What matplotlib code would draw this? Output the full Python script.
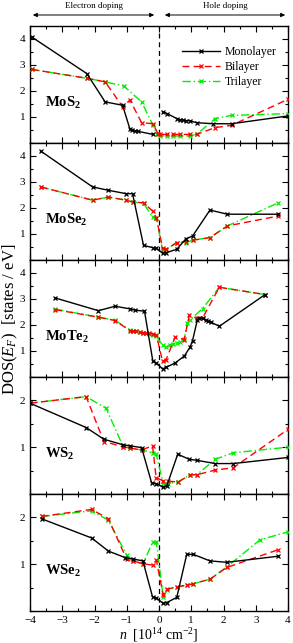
import numpy as np
import matplotlib
matplotlib.use("Agg")
import matplotlib.pyplot as plt
from matplotlib.ticker import MultipleLocator

plt.rcParams['font.family'] = ['Liberation Serif', 'DejaVu Serif']
plt.rcParams['mathtext.fontset'] = 'custom'
plt.rcParams['mathtext.rm'] = 'Liberation Serif'
plt.rcParams['mathtext.it'] = 'Liberation Serif:italic'
plt.rcParams['mathtext.bf'] = 'Liberation Serif:bold'

# --- data ---
materials = ["MoS_2", "MoSe_2", "MoTe_2", "WS_2", "WSe_2"]
ylims = [4.5, 4.5, 4.5, 2.5, 2.5]

# MoS2 (monolayer curve is broken at n = 0)
mos2_mono_n = [-3.95, -2.24, -1.67, -1.13, -0.9, -0.84, -0.74, -0.66, -0.19, np.nan,
               0.11, 0.25, 0.55, 0.65, 0.75, 0.85, 0.96, 1.17, 1.68, 2.25, 4.0]
mos2_mono_d = [4.08, 2.67, 1.58, 1.45, 0.53, 0.5, 0.47, 0.45, 0.33, np.nan,
               1.2, 1.13, 0.94, 0.9, 0.88, 0.86, 0.85, 0.78, 0.74, 0.74, 1.04]
mos2_bi_n = [-3.95, -2.24, -1.67, -1.13, -0.9, -0.54, -0.19, -0.02,
             0.03, 0.24, 0.44, 0.65, 0.96, 1.17, 1.74, 2.25, 4.0]
mos2_bi_d = [2.83, 2.49, 2.35, 1.4, 1.65, 0.78, 0.74, 0.33,
             0.33, 0.33, 0.33, 0.33, 0.33, 0.33, 0.59, 0.68, 1.68]
mos2_tri_n = [-3.95, -2.24, -1.67, -1.09, -0.54, -0.19, -0.07,
              0.03, 0.24, 0.44, 0.65, 0.96, 1.17, 1.74, 2.25, 4.0]
mos2_tri_d = [2.83, 2.49, 2.35, 2.19, 1.58, 0.69, 0.33,
              0.27, 0.27, 0.27, 0.27, 0.27, 0.33, 0.94, 1.06, 1.13]

# MoSe2
mose2_mono_n = [-3.67, -2.06, -1.57, -1.02, -0.82, -0.48, -0.18, -0.08,
                0.11, 0.22, 0.55, 0.84, 1.04, 1.58, 2.12, 3.7]
mose2_mono_d = [4.19, 2.81, 2.68, 2.55, 2.55, 0.56, 0.47, 0.45,
                0.26, 0.28, 0.41, 0.82, 0.92, 1.92, 1.76, 1.76]
mose2_bi_n = [-3.67, -2.06, -1.57, -1.02, -0.82, -0.48, -0.2, -0.08,
              0.11, 0.22, 0.55, 0.84, 1.04, 1.58, 2.12, 3.7]
mose2_bi_d = [2.81, 2.3, 2.42, 2.3, 2.23, 2.2, 1.88, 1.63,
              0.45, 0.41, 0.67, 0.71, 0.76, 0.86, 1.31, 1.69]
mose2_tri_n = [-3.67, -2.06, -1.57, -1.02, -0.82, -0.48, -0.2, -0.08,
               0.11, 0.22, 0.55, 0.84, 1.04, 1.58, 2.12, 3.7]
mose2_tri_d = [2.81, 2.3, 2.42, 2.3, 2.23, 2.18, 1.65, 1.62,
               0.37, 0.4, 0.67, 0.67, 0.76, 0.86, 1.31, 2.2]

# MoTe2
mote2_mono_n = [-3.22, -1.88, -1.36, -0.9, -0.74, -0.45, -0.19, -0.08,
                0.11, 0.22, 0.5, 0.78, 0.96, 1.04, 1.19, 1.25, 1.35, 1.45,
                1.53, 1.62, 1.87, 3.29]
mote2_mono_d = [3.04, 2.55, 2.72, 2.62, 2.57, 2.53, 0.6, 0.54,
                0.31, 0.37, 0.54, 0.8, 1.14, 1.4, 2.2, 2.27, 2.25, 2.18,
                2.14, 2.1, 1.95, 3.17]
mote2_bi_n = [-3.22, -1.88, -1.36, -0.9, -0.8, -0.7, -0.6, -0.5, -0.4, -0.3,
              -0.2, -0.08, 0.11, 0.22, 0.5, 0.78, 0.94, 1.19, 1.35, 1.87, 3.29]
mote2_bi_d = [2.59, 2.3, 2.17, 1.78, 1.76, 1.75, 1.73, 1.71, 1.7, 1.68,
              1.66, 1.6, 0.6, 0.67, 1.53, 1.44, 2.37, 2.25, 2.27, 3.45, 3.17]
mote2_tri_n = [-3.22, -1.88, -1.36, -0.9, -0.8, -0.7, -0.6, -0.5, -0.4, -0.3,
               -0.2, -0.08, 0.11, 0.22, 0.33, 0.44, 0.55, 0.66, 0.78, 0.88,
               0.96, 1.35, 1.87, 3.29]
mote2_tri_d = [2.61, 2.3, 2.18, 1.8, 1.78, 1.76, 1.74, 1.71, 1.68, 1.65,
               1.62, 1.56, 1.22, 1.15, 1.24, 1.28, 1.31, 1.35, 1.45, 2.08,
               2.2, 2.63, 3.45, 3.17]

# WS2
ws2_mono_n = [-4.0, -2.26, -1.71, -1.11, -0.9, -0.54, -0.23, -0.08,
              0.13, 0.24, 0.58, 0.94, 1.17, 1.74, 2.3, 4.0]
ws2_mono_d = [1.94, 1.42, 1.17, 1.05, 1.03, 0.99, 0.24, 0.22,
              0.14, 0.17, 0.85, 0.74, 0.72, 0.65, 0.65, 0.78]
ws2_bi_n = [-4.0, -2.26, -1.71, -1.11, -0.9, -0.54, -0.2, -0.09,
            0.13, 0.28, 0.6, 0.97, 1.17, 1.74, 2.3, 4.0]
ws2_bi_d = [1.94, 2.08, 1.12, 1.01, 0.98, 0.94, 1.03, 0.35,
            0.28, 0.27, 0.26, 0.41, 0.41, 0.51, 0.56, 1.38]
ws2_tri_n = [-4.0, -2.26, -1.64, -1.11, -0.9, -0.54, -0.2, -0.09,
             0.13, 0.28, 0.6, 0.97, 1.17, 1.74, 2.3, 4.0]
ws2_tri_d = [1.94, 2.08, 1.83, 1.01, 0.98, 0.94, 0.88, 0.85,
             0.22, 0.22, 0.26, 0.41, 0.41, 0.74, 0.88, 1.0]

# WSe2
wse2_mono_n = [-3.64, -2.09, -1.57, -1.05, -0.8, -0.5, -0.2, -0.08,
               0.13, 0.24, 0.55, 0.86, 1.06, 1.58, 2.1, 3.7]
wse2_mono_d = [1.97, 1.56, 1.28, 1.14, 1.11, 1.07, 0.3, 0.28,
               0.16, 0.18, 0.29, 1.21, 1.21, 1.07, 1.04, 1.17]
wse2_bi_n = [-3.64, -2.09, -1.57, -1.0, -0.8, -0.5, -0.2, -0.08,
             0.13, 0.24, 0.55, 0.86, 1.06, 1.58, 2.1, 3.7]
wse2_bi_d = [2.02, 2.17, 1.97, 1.1, 1.07, 1.01, 0.98, 1.08,
             0.34, 0.46, 0.52, 0.55, 0.58, 0.68, 0.93, 1.31]
wse2_tri_n = [-3.64, -2.09, -1.57, -1.0, -0.8, -0.5, -0.2, -0.08,
              0.13, 0.24, 0.55, 0.86, 1.06, 1.58, 2.1, 3.13, 4.0]
wse2_tri_d = [2.02, 2.14, 1.94, 1.19, 1.07, 1.0, 1.47, 1.47,
              0.29, 0.45, 0.51, 0.55, 0.58, 0.68, 0.94, 1.52, 1.69]

series = [
    [(mos2_mono_n, mos2_mono_d), (mos2_bi_n, mos2_bi_d), (mos2_tri_n, mos2_tri_d)],
    [(mose2_mono_n, mose2_mono_d), (mose2_bi_n, mose2_bi_d), (mose2_tri_n, mose2_tri_d)],
    [(mote2_mono_n, mote2_mono_d), (mote2_bi_n, mote2_bi_d), (mote2_tri_n, mote2_tri_d)],
    [(ws2_mono_n, ws2_mono_d), (ws2_bi_n, ws2_bi_d), (ws2_tri_n, ws2_tri_d)],
    [(wse2_mono_n, wse2_mono_d), (wse2_bi_n, wse2_bi_d), (wse2_tri_n, wse2_tri_d)],
]
labels = ["Monolayer", "Bilayer", "Trilayer"]
styles = [dict(color="black", ls="-"),
          dict(color="red", ls=(0, (5, 3))),
          dict(color="#00ee00", ls=(0, (6, 2, 1, 2)))]

fig = plt.figure(figsize=(2.93, 6.43), dpi=100)
gs = fig.add_gridspec(5, 1, left=0.1024, right=0.983, top=0.9596, bottom=0.0498,
                      hspace=0)
axes = [fig.add_subplot(gs[i]) for i in range(5)]

for i, ax in enumerate(axes):
    # trilayer first so the monolayer sits on top
    for j in [2, 1, 0]:
        n, d = series[i][j]
        ax.plot(n, d, marker="x", ms=3, mew=0.9, lw=1.0, label=labels[j],
                zorder=3 + (2 - j), **styles[j])
    ax.axvline(0, color="black", ls=(0, (4, 3)), lw=0.9)
    ax.set_xlim(-4, 4)
    ax.set_ylim(0, ylims[i])
    ax.xaxis.set_major_locator(MultipleLocator(1))
    ax.xaxis.set_minor_locator(MultipleLocator(0.5))
    ax.yaxis.set_major_locator(MultipleLocator(1))
    ax.yaxis.set_minor_locator(MultipleLocator(0.5))
    ax.tick_params(which="both", direction="in", top=True, right=True,
                   labelsize=8, width=0.8)
    ax.tick_params(which="major", length=4)
    ax.tick_params(which="minor", length=2.5)
    ax.set_yticks(np.arange(1, ylims[i], 1))
    for s in ax.spines.values():
        s.set_linewidth(1.0)
    if i < 4:
        ax.tick_params(labelbottom=False)
    ax.text(0.06, 0.34, r"$\mathbf{%s}$" % materials[i], transform=ax.transAxes,
            fontsize=10.5, va="center", ha="left")

h, l = axes[0].get_legend_handles_labels()
axes[0].legend(h[::-1], l[::-1], loc="upper right", frameon=False, fontsize=8.5,
               handlelength=3.2, borderaxespad=0.6, labelspacing=0.25,
               handletextpad=0.4, bbox_to_anchor=(1.0, 0.93))

axes[4].set_xticks(np.arange(-4, 5, 1))
axes[4].set_xlabel(r"$n$  [10$^{14}$ cm$^{-2}$]", fontsize=10, labelpad=1)
fig.text(0.034, 1 - 319 / 643, r"DOS($E_F$)  [states / eV]", rotation=90,
         fontsize=12, ha="center", va="center")

# doping arrows
ya = 1 - 15 / 643
fig.text(94 / 293, 1 - 6 / 643, "Electron doping", fontsize=6.5, ha="center",
         va="center")
fig.text(225 / 293, 1 - 6 / 643, "Hole doping", fontsize=6.5, ha="center",
         va="center")
fig.add_artist(matplotlib.patches.FancyArrowPatch(
    (30 / 293, ya), (157 / 293, ya), transform=fig.transFigure,
    arrowstyle="<|-|>,head_length=2.5,head_width=1.2", color="black", lw=0.7))
fig.add_artist(matplotlib.patches.FancyArrowPatch(
    (162 / 293, ya), (288 / 293, ya), transform=fig.transFigure,
    arrowstyle="<|-|>,head_length=2.5,head_width=1.2", color="black", lw=0.7))

fig.savefig("out.png", dpi=100)
